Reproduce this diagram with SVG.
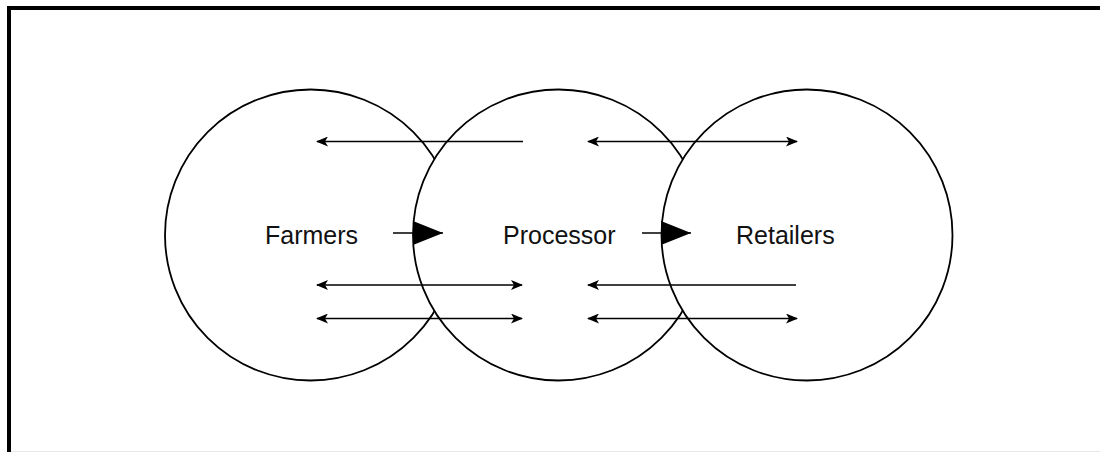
<svg xmlns="http://www.w3.org/2000/svg" width="1100" height="452" viewBox="0 0 1100 452">
  <style>
    .frame { fill: none; stroke: #000; stroke-width: 4; }
    .node circle { fill: #fff; stroke: #000; stroke-width: 1.8; }
    .node text { font-family: "Liberation Sans", Arial, sans-serif; font-size: 25px; fill: #111; }
    .flow { stroke: #000; stroke-width: 1.4; fill: none; }
    .push { stroke: #000; stroke-width: 1.6; fill: none; }
  </style>
  <defs>
    <marker id="tip" viewBox="0 0 12 10" refX="11" refY="5" markerWidth="12" markerHeight="10" markerUnits="userSpaceOnUse" orient="auto-start-reverse">
      <path d="M0,0 L12,5 L0,10 L3,5 Z" fill="#000"/>
    </marker>
    <marker id="bigtip" viewBox="0 0 30 24" refX="30" refY="12" markerWidth="30" markerHeight="24" markerUnits="userSpaceOnUse" orient="auto">
      <path d="M0,0 L30,12 L0,24 Z" fill="#000"/>
    </marker>
  </defs>

  <rect width="1100" height="452" fill="#fff"/>
  <rect class="frame" x="9" y="8" width="1100" height="460"/>
  <line x1="11" y1="451.5" x2="1100" y2="451.5" stroke="#e8e8e8" stroke-width="1"/>

  <!-- white-filled circles stacked left to right, each hiding the arc of the one before -->
  <g id="farmers" class="node">
    <circle cx="310.5" cy="235" r="145.5"/>
  </g>
  <g id="processor" class="node">
    <circle cx="558.5" cy="235" r="145.5"/>
  </g>
  <g id="retailers" class="node">
    <circle cx="807" cy="235" r="145.5"/>
  </g>

  <g id="labels" class="node">
    <text id="farmers-label" x="265" y="244">Farmers</text>
    <text id="processor-label" x="503" y="244">Processor</text>
    <text id="retailers-label" x="736" y="244">Retailers</text>
  </g>

  <g id="connectors">
    <!-- main chain -->
    <line class="push" x1="393" y1="233" x2="443" y2="233" marker-end="url(#bigtip)"/>
    <line class="push" x1="642" y1="233" x2="691" y2="233" marker-end="url(#bigtip)"/>
    <!-- farmers / processor exchanges -->
    <line class="flow" x1="523" y1="141.5" x2="317" y2="141.5" marker-end="url(#tip)"/>
    <line class="flow" x1="317" y1="285" x2="522" y2="285" marker-start="url(#tip)" marker-end="url(#tip)"/>
    <line class="flow" x1="317" y1="318.5" x2="522" y2="318.5" marker-start="url(#tip)" marker-end="url(#tip)"/>
    <!-- processor / retailers exchanges -->
    <line class="flow" x1="588" y1="141.5" x2="797" y2="141.5" marker-start="url(#tip)" marker-end="url(#tip)"/>
    <line class="flow" x1="796" y1="285" x2="588" y2="285" marker-end="url(#tip)"/>
    <line class="flow" x1="588" y1="318.5" x2="797" y2="318.5" marker-start="url(#tip)" marker-end="url(#tip)"/>
  </g>
</svg>
